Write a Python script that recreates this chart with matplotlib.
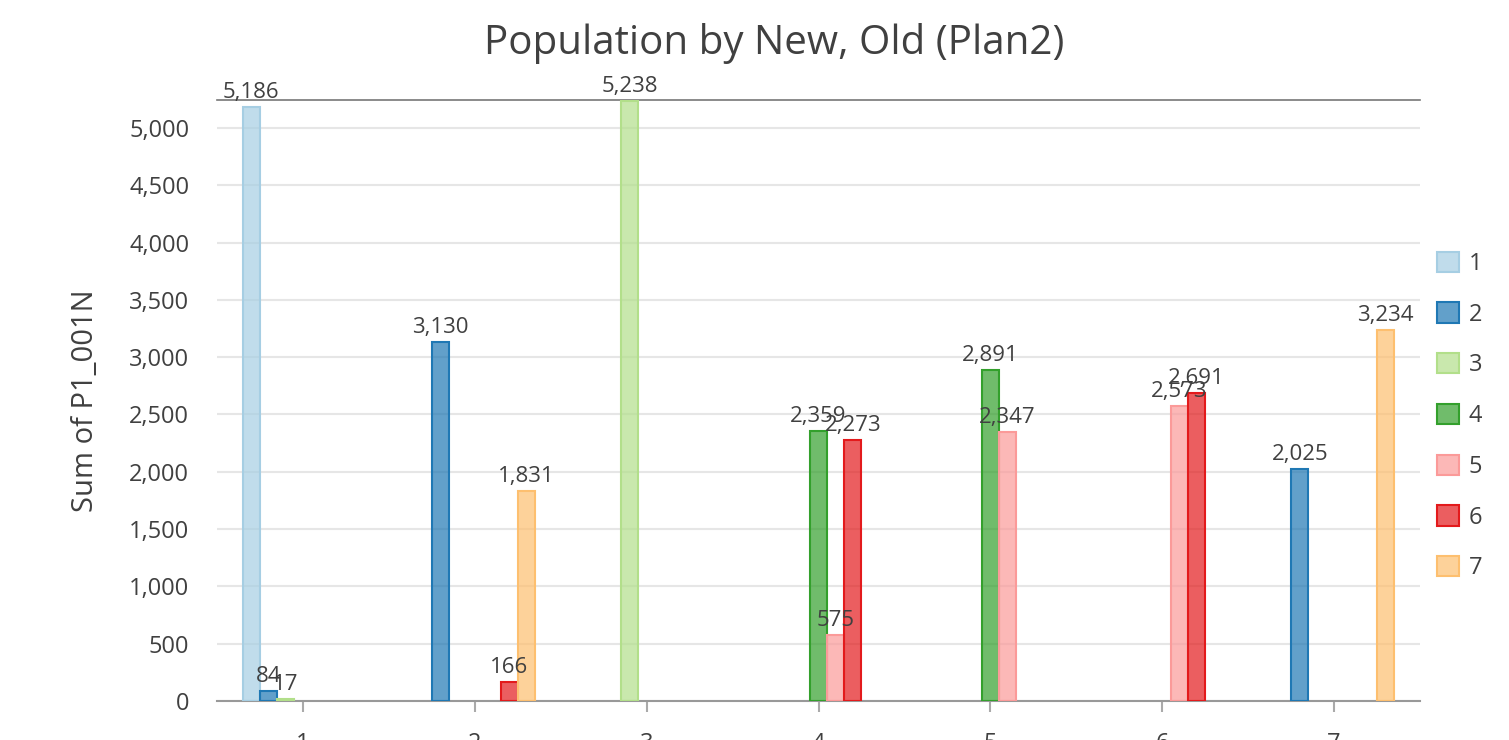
import matplotlib
matplotlib.use("Agg")
import matplotlib.pyplot as plt
from matplotlib.patches import Patch
import numpy as np

categories = ["1", "2", "3", "4", "5", "6", "7"]
series_names = ["1", "2", "3", "4", "5", "6", "7"]
# values[series][category]; None = no bar
s1 = [5186, None, None, None, None, None, None]
s2 = [84, 3130, None, None, None, None, 2025]
s3 = [17, None, 5238, None, None, None, None]
s4 = [None, None, None, 2359, 2891, None, None]
s5 = [None, None, None, 575, 2347, 2573, None]
s6 = [None, 166, None, 2273, None, 2691, None]
s7 = [None, 1831, None, None, None, None, 3234]
series_values = [s1, s2, s3, s4, s5, s6, s7]

edge_colors = ["#a6cee3", "#1f78b4", "#b2df8a", "#33a02c", "#fb9a99", "#e31a1c", "#fdbf6f"]

plt.rcParams['font.family'] = ['Open Sans', 'DejaVu Sans']
text_color = "#404040"

fig = plt.figure(figsize=(15.09, 7.40), dpi=100)
ax = fig.add_axes([217/1509, 39/740, (1420-217)/1509, (701-100)/740])

x = np.arange(1, len(categories) + 1)
width = 0.1
n = len(series_values)
for i, (vals, col) in enumerate(zip(series_values, edge_colors)):
    xs, ys = [], []
    for j, v in enumerate(vals):
        if v is not None:
            xs.append(x[j] + (i - (n - 1) / 2) * width)
            ys.append(v)
    ax.bar(xs, ys, width=width, color=matplotlib.colors.to_rgba(col, 0.7),
           edgecolor=col, linewidth=1.5, zorder=3)
    for xi, yi in zip(xs, ys):
        ax.text(xi, yi + 35, f"{yi:,}", ha="center", va="bottom",
                fontsize=16, color=text_color, zorder=5)

ax.set_xlim(0.5, 7.5)
ax.set_ylim(0, 5244)
ax.set_yticks(np.arange(0, 5001, 500))
ax.set_yticklabels([f"{v:,}" for v in range(0, 5001, 500)])
ax.set_xticks(x)
ax.set_xticklabels(categories)
ax.tick_params(axis="y", length=0, labelsize=17, labelcolor=text_color, pad=20)
ax.tick_params(axis="x", length=8, width=1.5, color="#aaaaaa", labelsize=17,
               labelcolor=text_color, pad=14)
ax.grid(axis="y", color="#e6e6e6", linewidth=1.5, zorder=0)
ax.set_axisbelow(True)
for s in ["left", "right"]:
    ax.spines[s].set_visible(False)
ax.spines["bottom"].set_color("#999999")
ax.spines["bottom"].set_linewidth(1.5)
ax.spines["top"].set_color("#777777")
ax.spines["top"].set_linewidth(1.2)

ax.set_ylabel("Sum of P1_001N", fontsize=21, color=text_color, labelpad=21)
fig.text(774 / 1509, 1 - 43 / 740, "Population by New, Old (Plan2)",
         ha="center", va="center", fontsize=29, color=text_color)

handles = [Patch(facecolor=matplotlib.colors.to_rgba(c, 0.7), edgecolor=c, linewidth=1.5)
           for c in edge_colors]
leg = fig.legend(handles, series_names, loc="center left",
                 bbox_to_anchor=(1437/1509, 1 - 416/740), frameon=False,
                 fontsize=17, labelcolor=text_color, handlelength=0.95, handleheight=0.95,
                 handletextpad=0.4, labelspacing=1.12, borderpad=0, borderaxespad=0)

fig.savefig("out.png", dpi=100)
